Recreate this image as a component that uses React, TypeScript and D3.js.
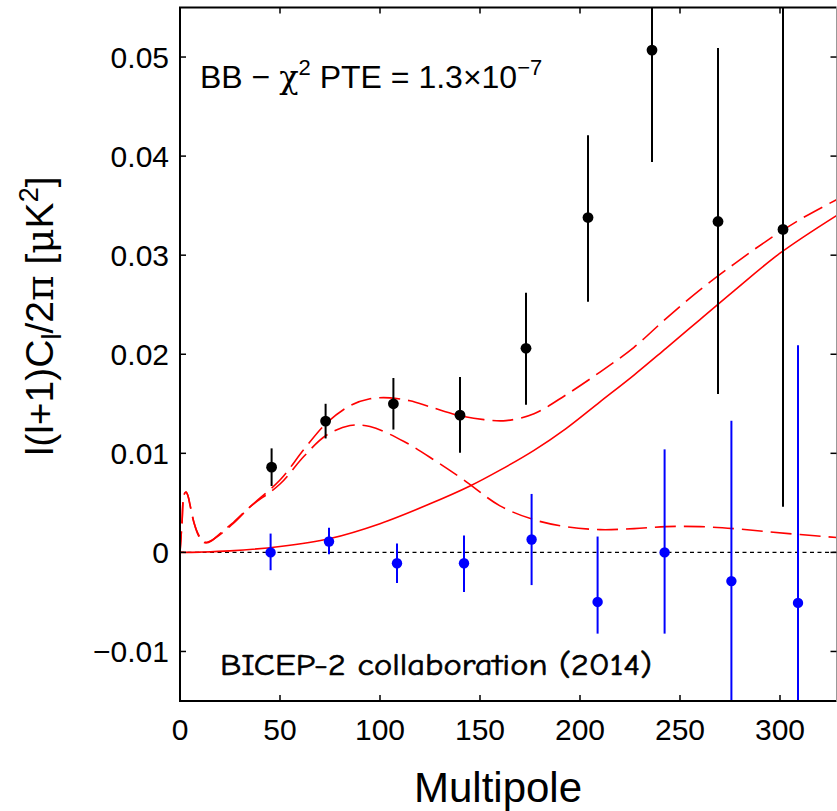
import React from "react";
import * as d3 from "d3";

// ---- data ----
const xTicks = [0, 50, 100, 150, 200, 250, 300];
const yTicks = [-0.01, 0, 0.01, 0.02, 0.03, 0.04, 0.05];
const yTickLabels = ["\u22120.01", "0", "0.01", "0.02", "0.03", "0.04", "0.05"];

// BB data (black): multipole, value, lower, upper
const bbEll = [45.8, 72.8, 106.7, 140, 173, 204, 236, 269, 301.5];
const bbVal = [0.0086, 0.01325, 0.015, 0.01385, 0.0206, 0.0338, 0.0507, 0.0334, 0.0326];
const bbLo = [0.0067, 0.0115, 0.0124, 0.01005, 0.0149, 0.0253, 0.0394, 0.016, 0.0046];
const bbHi = [0.0105, 0.015, 0.0176, 0.0177, 0.0262, 0.0421, 0.062, 0.0509, 0.0606];

// null test (blue)
const nullEll = [45.3, 74.5, 108.5, 142, 175.8, 208.8, 242.3, 275.7, 309];
const nullVal = [0.0, 0.0011, -0.0011, -0.0011, 0.0013, -0.005, 0.0, -0.0029, -0.0051];
const nullLo = [-0.0018, -0.0002, -0.0031, -0.004, -0.0033, -0.0082, -0.0082, -0.019, -0.031];
const nullHi = [0.0019, 0.0025, 0.0009, 0.0017, 0.0059, 0.0016, 0.0104, 0.0133, 0.0209];

// model curves [multipole, value]
const tensorCurve: [number, number][] = [
  [0, 0], [1, 0.003], [2, 0.0058], [3, 0.0061], [4, 0.0057], [5, 0.0048], [7, 0.003],
  [9, 0.0018], [11, 0.0011], [13, 0.00095], [16, 0.0012], [20, 0.0019], [26, 0.0029],
  [35, 0.0046], [50, 0.0069], [62, 0.0097], [73, 0.0118], [85, 0.0128], [95, 0.0127],
  [112, 0.0112], [128, 0.0092], [142, 0.0073], [160, 0.0047], [177, 0.0033],
  [193, 0.0026], [210, 0.0023], [227, 0.0024], [243, 0.0026], [260, 0.0026],
  [277, 0.0024], [293, 0.0021], [310, 0.0018], [328.25, 0.0015],
];
const lensingCurve: [number, number][] = [
  [0, 0], [10, 0.00003], [25, 0.00015], [50, 0.0006], [75, 0.0014], [100, 0.0029],
  [125, 0.0049], [145, 0.0067], [160, 0.0083], [177, 0.0103],
  [193, 0.0125], [210, 0.0152], [227, 0.0179], [243, 0.0206], [260, 0.0235],
  [277, 0.0264], [300, 0.0302], [328.25, 0.034],
];
const totalCurve: [number, number][] = [
  [0, 0], [1, 0.003], [2, 0.0058], [3, 0.0061], [4, 0.0057], [5, 0.0048], [7, 0.003],
  [9, 0.0019], [11.5, 0.0011], [14, 0.00105], [18, 0.0015], [26.5, 0.0029], [35, 0.0046],
  [50, 0.0073], [62, 0.0104], [73, 0.013], [85, 0.0148], [95, 0.0155], [105, 0.0156],
  [115, 0.0153], [125, 0.0147], [140, 0.0138], [152, 0.0134], [163, 0.0133],
  [177, 0.014], [193, 0.0159], [210, 0.0182], [227, 0.0207], [243, 0.0236],
  [260, 0.0265], [277, 0.0291], [293, 0.0314], [310, 0.0336], [328.25, 0.0356],
];

const W = 837;
const H = 811;
const L = 180, R = 836.5, T = 7.5, B = 701;

export default function App() {
  const x = d3.scaleLinear().domain([0, 328.25]).range([L, R]);
  const y = d3.scaleLinear().domain([-0.015, 0.055]).range([B, T]);
  const line = d3
    .line<[number, number]>()
    .x((d) => x(d[0]))
    .y((d) => y(d[1]))
    .curve(d3.curveCatmullRom.alpha(0.5));

  const font = "'Liberation Sans', Arial, Helvetica, sans-serif";
  const serif = "'DejaVu Serif', 'Liberation Serif', serif";

  return (
    <svg
      width={W}
      height={H}
      style={{ position: "absolute", left: 0, top: 0, background: "#fff" }}
      fontFamily={font}
    >
      <defs>
        <clipPath id="plot">
          <rect x={L} y={T} width={R - L} height={B - T} />
        </clipPath>
      </defs>
      <rect x={0} y={0} width={W} height={H} fill="#fff" />

      <g clipPath="url(#plot)">
        {/* zero line */}
        <line x1={L} x2={R} y1={y(0)} y2={y(0)} stroke="#000" strokeWidth={1.3} strokeDasharray="4,3.5" />
        {/* model curves */}
        <path d={line(lensingCurve) || ""} fill="none" stroke="#ff0000" strokeWidth={1.6} />
        <path d={line(tensorCurve) || ""} fill="none" stroke="#ff0000" strokeWidth={1.6} strokeDasharray="21,8" />
        <path d={line(totalCurve) || ""} fill="none" stroke="#ff0000" strokeWidth={1.6} strokeDasharray="21,8" />

        {/* BB data */}
        {bbEll.map((l, i) => (
          <g key={"bb" + i}>
            <line x1={x(l)} x2={x(l)} y1={y(bbLo[i])} y2={y(bbHi[i])} stroke="#000" strokeWidth={2} />
            <circle cx={x(l)} cy={y(bbVal[i])} r={5.4} fill="#000" />
          </g>
        ))}
        {/* null test */}
        {nullEll.map((l, i) => (
          <g key={"nl" + i}>
            <line x1={x(l)} x2={x(l)} y1={y(nullLo[i])} y2={y(nullHi[i])} stroke="#0000ff" strokeWidth={2} />
            <circle cx={x(l)} cy={y(nullVal[i])} r={5.2} fill="#0000ff" />
          </g>
        ))}
      </g>

      {/* frame */}
      <line x1={L} x2={L} y1={T} y2={B} stroke="#000" strokeWidth={2} />
      <line x1={L - 1} x2={R} y1={B} y2={B} stroke="#000" strokeWidth={2} />
      <line x1={L - 1} x2={R} y1={T} y2={T} stroke="#000" strokeWidth={2} />
      <line x1={R} x2={R} y1={T} y2={B} stroke="#999" strokeWidth={1} />

      {/* ticks */}
      {xTicks.map((t) => (
        <g key={"xt" + t}>
          <line x1={x(t)} x2={x(t)} y1={B} y2={B - 6} stroke="#000" strokeWidth={1.5} />
          <line x1={x(t)} x2={x(t)} y1={T} y2={T + 6} stroke="#000" strokeWidth={1.5} />
          <text x={x(t)} y={740} textAnchor="middle" fontSize={30}>
            {t}
          </text>
        </g>
      ))}
      {yTicks.map((t, i) => (
        <g key={"yt" + t}>
          <line x1={L} x2={L + 6} y1={y(t)} y2={y(t)} stroke="#000" strokeWidth={1.5} />
          <line x1={R} x2={R - 6} y1={y(t)} y2={y(t)} stroke="#000" strokeWidth={1.5} />
          <text x={169} y={y(t) + 10.5} textAnchor="end" fontSize={30}>
            {yTickLabels[i]}
          </text>
        </g>
      ))}

      {/* annotations */}
      <text x={200} y={88} fontSize={32}>
        BB {"\u2212"} <tspan fontFamily={serif}>{"\u03C7"}</tspan>
        <tspan dy={-13} fontSize={22}>2</tspan>
        <tspan dy={13}> PTE = 1.3{"\u00D7"}10</tspan>
        <tspan dy={-13} fontSize={22}>{"\u22127"}</tspan>
      </text>
      <text
        x={220}
        y={675}
        fontSize={30}
        fontFamily="'Comic Sans MS', 'Comic Neue', 'DejaVu Sans', sans-serif"
        textLength={432}
        lengthAdjust="spacingAndGlyphs"
        stroke="#000"
        strokeWidth={0.6}
      >
        BICEP-2 collaboration (2014)
      </text>

      {/* axis labels */}
      <text x={498} y={802} textAnchor="middle" fontSize={42}>
        Multipole
      </text>
      <text transform="translate(53,316) rotate(-90)" textAnchor="middle" fontSize={39}>
        l(l+1)C
        <tspan dy={8} fontSize={27}>l</tspan>
        <tspan dy={-8}>/2</tspan>
        <tspan fontFamily={serif}>{"\u03C0"}</tspan> [
        <tspan fontFamily={serif}>{"\u03BC"}</tspan>K
        <tspan dy={-15} fontSize={27}>2</tspan>
        <tspan dy={15}>]</tspan>
      </text>
    </svg>
  );
}
